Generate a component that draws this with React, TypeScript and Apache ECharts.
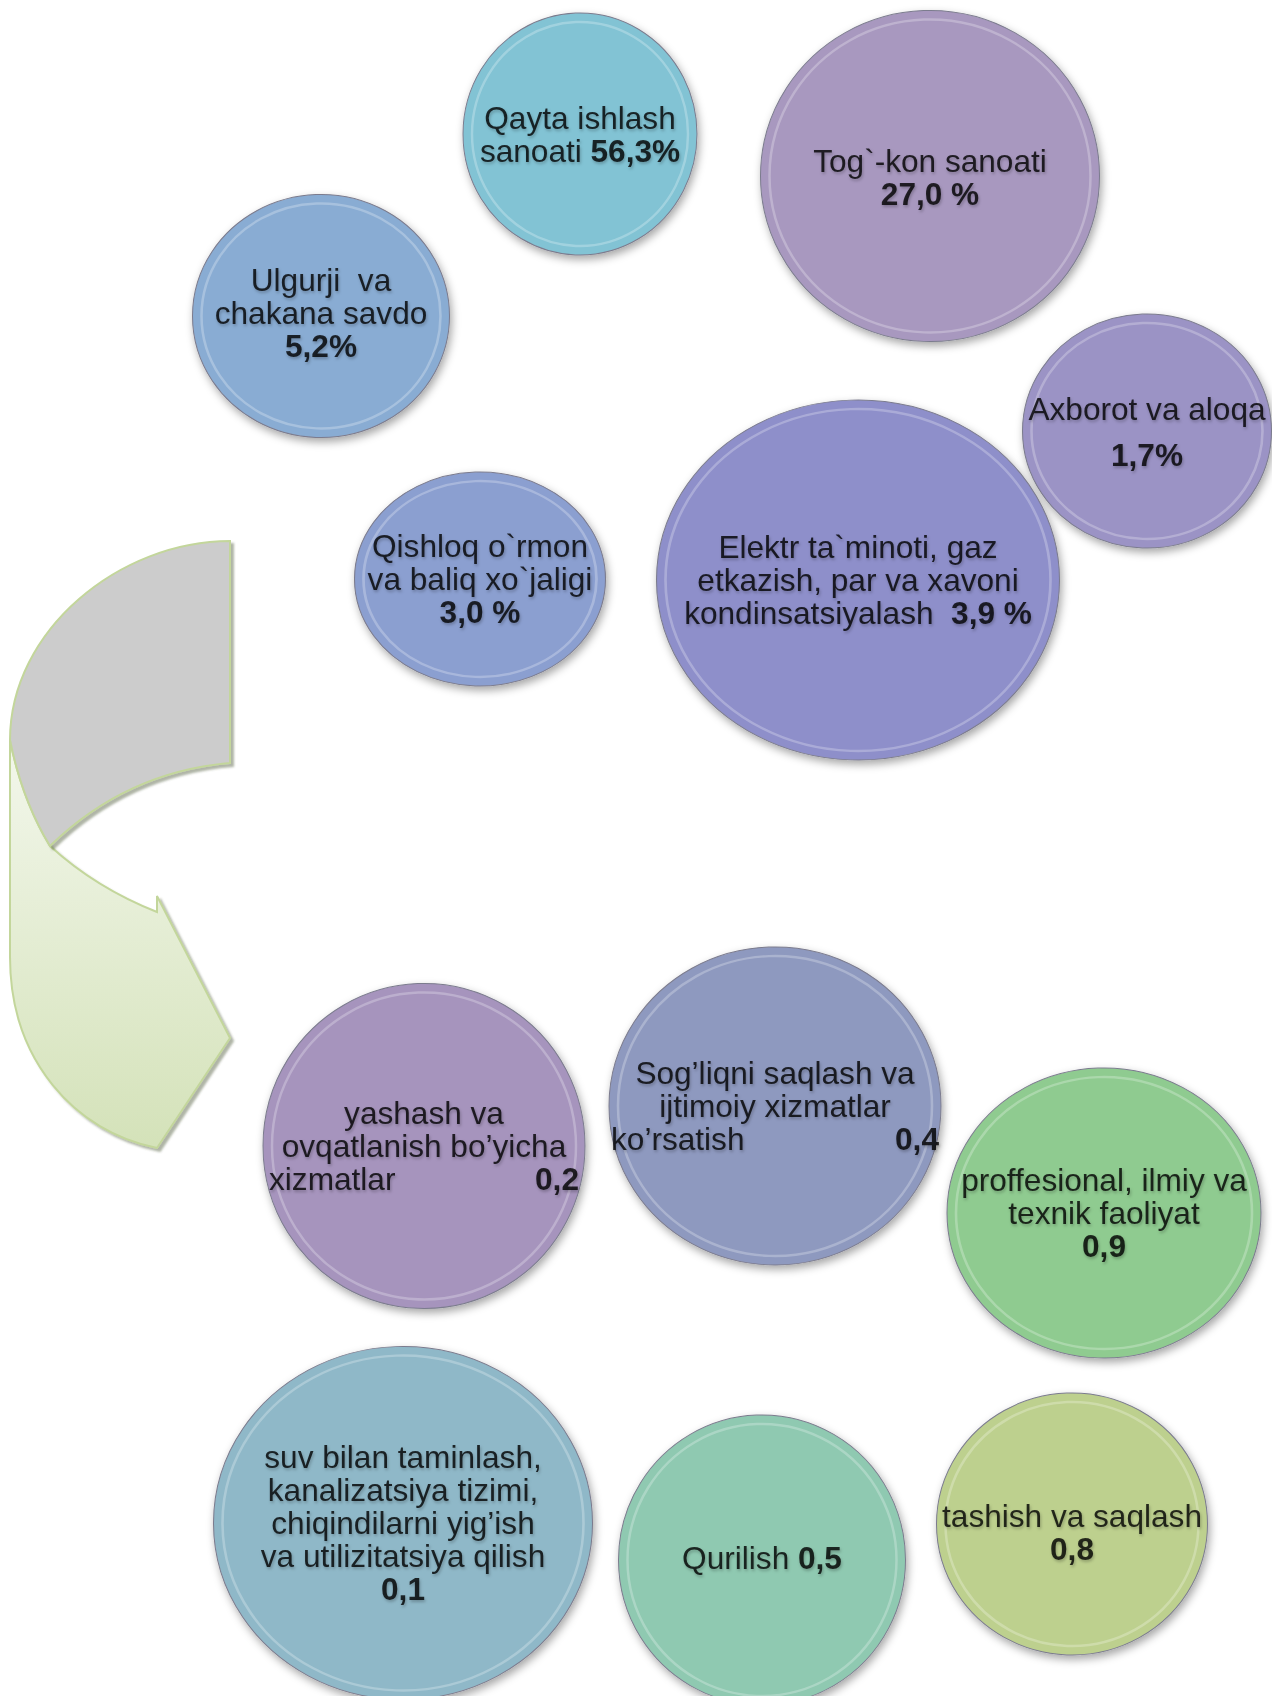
import React, { useEffect, useRef } from "react";
import * as echarts from "echarts";

// ---------- data ----------
const categories = [
  "Qayta ishlash\nsanoati",
  "Tog`-kon sanoati",
  "Ulgurji  va\nchakana savdo",
  "Axborot va aloqa",
  "Qishloq o`rmon\nva baliq xo`jaligi",
  "Elektr ta`minoti, gaz\netkazish, par va xavoni\nkondinsatsiyalash",
  "yashash va\novqatlanish bo’yicha\nxizmatlar",
  "Sog’liqni saqlash va\nijtimoiy xizmatlar\nko’rsatish",
  "proffesional, ilmiy va\ntexnik faoliyat",
  "suv bilan taminlash,\nkanalizatsiya tizimi,\nchiqindilarni yig’ish\nva utilizitatsiya qilish",
  "Qurilish",
  "tashish va saqlash",
];
const values = [56.3, 27.0, 5.2, 1.7, 3.0, 3.9, 0.2, 0.4, 0.9, 0.1, 0.5, 0.8];
const units = ["%", " %", "%", "%", " %", " %", "", "", "", "", "", ""];

// ---------- layout (pixel coordinates on the hidden value axes) ----------
const centerX = [580, 930, 321, 1147, 480, 858, 424, 775, 1104, 403, 762, 1072];
const centerY = [134, 176, 316, 431, 579, 580, 1146, 1106, 1213, 1523, 1560, 1524];
const bubbleW = [234, 339, 257, 249, 251, 403, 322, 332, 314, 379, 287, 271];
const bubbleH = [242, 331, 243, 234, 214, 360, 325, 318, 290, 353, 290, 262];
const labelDy = [0, 1, -3, 7, 0, 0, 0, 0, 0, 0, -2, 8];
// how the value joins the text: "space", "line", "gapline", "dspace", or a justified width
const joinMode: (string | number)[] = ["space", "line", "line", "gapline", "line", "dspace", 266, 284, "line", "line", "space", "line"];
const colors = [
  "#82c3d4", "#a898bf", "#89acd3", "#9b93c5", "#8b9fd0", "#8e8fca",
  "#a694bd", "#8e99bf", "#8fcb90", "#8fb8c8", "#8fc9b1", "#bdd08e",
];

const grayArrow =
  "M230,541 C120,541 10,630 10,740 Q22,800 50,846 Q126,772 230,763 Z";
const greenArrow =
  "M10,740 Q22,800 50,846 Q96,888 157,912 L157,896 L230,1038 L157,1148 C75,1132 10,1060 10,957 Z";
echarts.graphic.registerShape("grayArrow", echarts.graphic.extendPath(grayArrow, {}) as any);
echarts.graphic.registerShape("greenArrow", echarts.graphic.extendPath(greenArrow, {}) as any);

const fmt = (v: number) => v.toFixed(1).replace(".", ",");

function labelText(i: number): string {
  const name = categories[i];
  const val = fmt(values[i]) + units[i];
  const m = joinMode[i];
  if (typeof m === "number") {
    const lines = name.split("\n");
    const last = lines.pop() as string;
    return (lines.length ? lines.join("\n") + "\n" : "") + `{jl|${last}}{b|${val}}`;
  }
  if (m === "space") return `${name} {b|${val}}`;
  if (m === "dspace") return `${name}  {b|${val}}`;
  if (m === "gapline") return `${name}\n{bt|${val}}`;
  return `${name}\n{b|${val}}`;
}

const FONT = "'Liberation Sans', Arial, sans-serif";
const FS = 31.6;

export default function App() {
  const ref = useRef<HTMLDivElement>(null);
  useEffect(() => {
    if (!ref.current) return;
    const chart = echarts.init(ref.current, undefined, { renderer: "svg" });

    const fillData = categories.map((_, i) => ({
      value: [centerX[i], centerY[i]],
      symbolSize: [bubbleW[i], bubbleH[i]],
      itemStyle: { color: colors[i] },
    }));
    const rimData = categories.map((_, i) => {
      const m = joinMode[i];
      return {
        value: [centerX[i], centerY[i]],
        symbolSize: [bubbleW[i] - 18, bubbleH[i] - 18],
        label: {
          formatter: labelText(i),
          offset: [0, labelDy[i]],
          rich: {
            b: { fontFamily: FONT, fontSize: FS, lineHeight: 33, fontWeight: "bold", color: "#000" },
            bt: { fontFamily: FONT, fontSize: FS, lineHeight: 58, fontWeight: "bold", color: "#000" },
            jl: {
              fontFamily: FONT, fontSize: FS, lineHeight: 33, color: "#000",
              width: typeof m === "number" ? m : 0, align: "left",
            },
          },
        },
      };
    });

    chart.setOption({
      animation: false,
      backgroundColor: "#ffffff",
      grid: { left: 0, right: 0, top: 0, bottom: 0, containLabel: false },
      xAxis: { type: "value", min: 0, max: 1272, show: false },
      yAxis: { type: "value", min: 0, max: 1696, inverse: true, show: false },
      graphic: [
        {
          type: "greenArrow",
          x: 0,
          y: 0,
          scaleX: 1,
          scaleY: 1,
          style: {
            fill: new echarts.graphic.LinearGradient(0, 0, 0, 1, [
              { offset: 0, color: "#f3f7ec" },
              { offset: 1, color: "#d4e2b9" },
            ]),
            stroke: "#c3d69b",
            lineWidth: 2,
            shadowColor: "rgba(80,90,60,0.45)",
            shadowBlur: 2,
            shadowOffsetX: 3,
            shadowOffsetY: 3,
          },
        },
        {
          type: "grayArrow",
          x: 0,
          y: 0,
          scaleX: 1,
          scaleY: 1,
          style: {
            fill: "#cccccc",
            stroke: "#c3d69b",
            lineWidth: 2,
            shadowColor: "rgba(80,90,60,0.45)",
            shadowBlur: 2,
            shadowOffsetX: 3,
            shadowOffsetY: 3,
          },
        },
      ],
      series: [
        {
          type: "scatter",
          symbol: "circle",
          clip: false,
          silent: true,
          data: fillData,
          itemStyle: {
            opacity: 1,
            borderColor: "#7c7c8e",
            borderWidth: 1,
            shadowColor: "rgba(0,0,0,0.35)",
            shadowBlur: 8,
            shadowOffsetX: 2,
            shadowOffsetY: 4,
          },
          label: { show: false },
          z: 2,
        },
        {
          type: "scatter",
          symbol: "circle",
          clip: false,
          silent: true,
          data: rimData,
          itemStyle: {
            color: "rgba(0,0,0,0)",
            borderColor: "rgba(255,255,255,0.32)",
            borderWidth: 2.5,
          },
          label: {
            show: true,
            position: "inside",
            color: "#000",
            fontFamily: FONT,
            fontSize: FS,
            lineHeight: 33,
            align: "center",
            verticalAlign: "middle",
            textShadowColor: "rgba(0,0,0,0.3)",
            textShadowBlur: 3,
            textShadowOffsetX: 1,
            textShadowOffsetY: 2,
          },
          z: 3,
        },
      ],
    });
    return () => chart.dispose();
  }, []);

  return (
    <div
      ref={ref}
      style={{ position: "absolute", left: 0, top: 0, width: 1272, height: 1696 }}
    />
  );
}
